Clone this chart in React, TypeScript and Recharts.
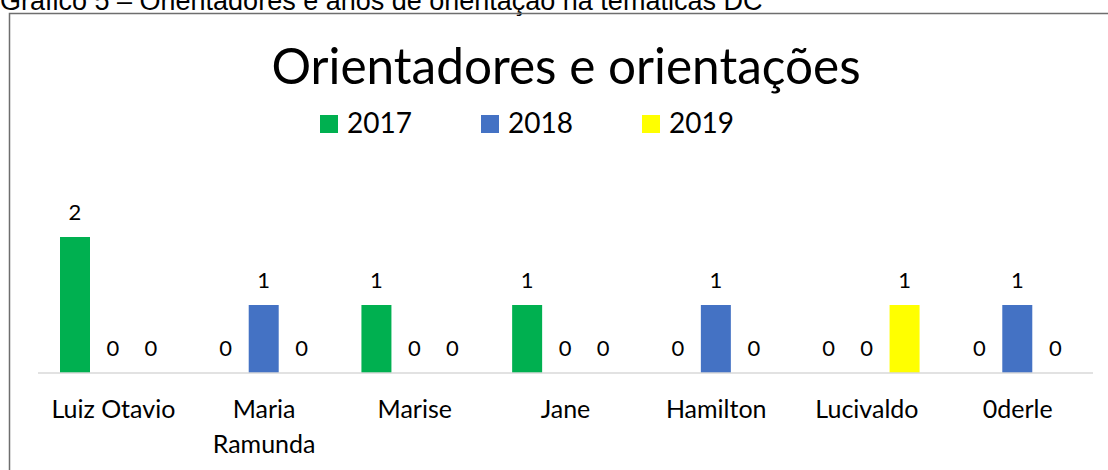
import React from 'react';
import { BarChart, Bar, XAxis, YAxis, LabelList } from 'recharts';

// orientadores e número de orientações por ano
const categories = ['Luiz Otavio', 'Maria Ramunda', 'Marise', 'Jane', 'Hamilton', 'Lucivaldo', '0derle'];
const values2017 = [2, 0, 1, 1, 0, 0, 0];
const values2018 = [0, 1, 0, 0, 1, 0, 1];
const values2019 = [0, 0, 0, 0, 0, 1, 0];
const seriesNames = ['2017', '2018', '2019'];
const seriesColors = ['#00B050', '#4472C4', '#FFFF00'];

const data = categories.map((name, i) => ({
    name,
    '2017': values2017[i],
    '2018': values2018[i],
    '2019': values2019[i],
}));

const FONT = 'Lato, "Open Sans", sans-serif';

const CategoryTick = (props: any) => {
    const { x, y, payload } = props;
    const value: string = payload.value;
    const lines = value.length > 11 ? value.split(' ') : [value];
    return (
        <text x={x} y={y} textAnchor="middle" fontFamily={FONT} fontSize={25} fill="#000">
            {lines.map((l, i) => (
                <tspan key={i} x={x} dy={i === 0 ? 37 : 35}>{l}</tspan>
            ))}
        </text>
    );
};

const ValueLabel = (props: any) => {
    const { x, y, width, height, value } = props;
    // top of the bar (height can be tiny for zero values)
    const top = Math.min(Number(y), Number(y) + Number(height));
    return (
        <text x={Number(x) + Number(width) / 2} y={top - 17} textAnchor="middle" fontFamily={FONT} fontSize={22} fill="#000">
            {String(value)}
        </text>
    );
};

const App: React.FC = () => {
    return (
        <div style={{ position: 'absolute', left: 0, top: 0, width: 1108, height: 470, background: '#fff', overflow: 'hidden' }}>
            <BarChart
                width={1108}
                height={470}
                data={data}
                margin={{ top: 237, right: 15, bottom: 37, left: 38 }}
                barGap={8}
                barSize={30}
            >
                <XAxis
                    dataKey="name"
                    interval={0}
                    height={60}
                    tickLine={false}
                    axisLine={{ stroke: '#D9D9D9', strokeWidth: 1.5 }}
                    tick={<CategoryTick />}
                />
                <YAxis hide domain={[0, 2]} />
                {seriesNames.map((s, i) => (
                    <Bar key={s} dataKey={s} fill={seriesColors[i]} minPointSize={0.01} isAnimationActive={false}>
                        <LabelList dataKey={s} content={<ValueLabel />} />
                    </Bar>
                ))}
            </BarChart>
            <svg width={1108} height={470} style={{ position: 'absolute', left: 0, top: 0, pointerEvents: 'none' }}>
                <text x={0} y={10} fontFamily='"Liberation Sans", Arial, sans-serif' fontSize={27} fill="#000">
                    Gráfico 5 – Orientadores e anos de orientação na temáticas DC
                </text>
                <rect x={9.5} y={13.5} width={1120} height={500} fill="none" stroke="#6E6E6E" strokeWidth={1.5} />
                <text x={566} y={84} textAnchor="middle" fontFamily={FONT} fontSize={49.5} fill="#000">
                    Orientadores e orientações
                </text>
                {seriesNames.map((s, i) => (
                    <g key={s}>
                        <rect x={320 + i * 161} y={115} width={18} height={18} fill={seriesColors[i]} />
                        <text x={347 + i * 161} y={133} fontFamily={FONT} fontSize={28} fill="#000">{s}</text>
                    </g>
                ))}
            </svg>
        </div>
    );
};

export default App;
